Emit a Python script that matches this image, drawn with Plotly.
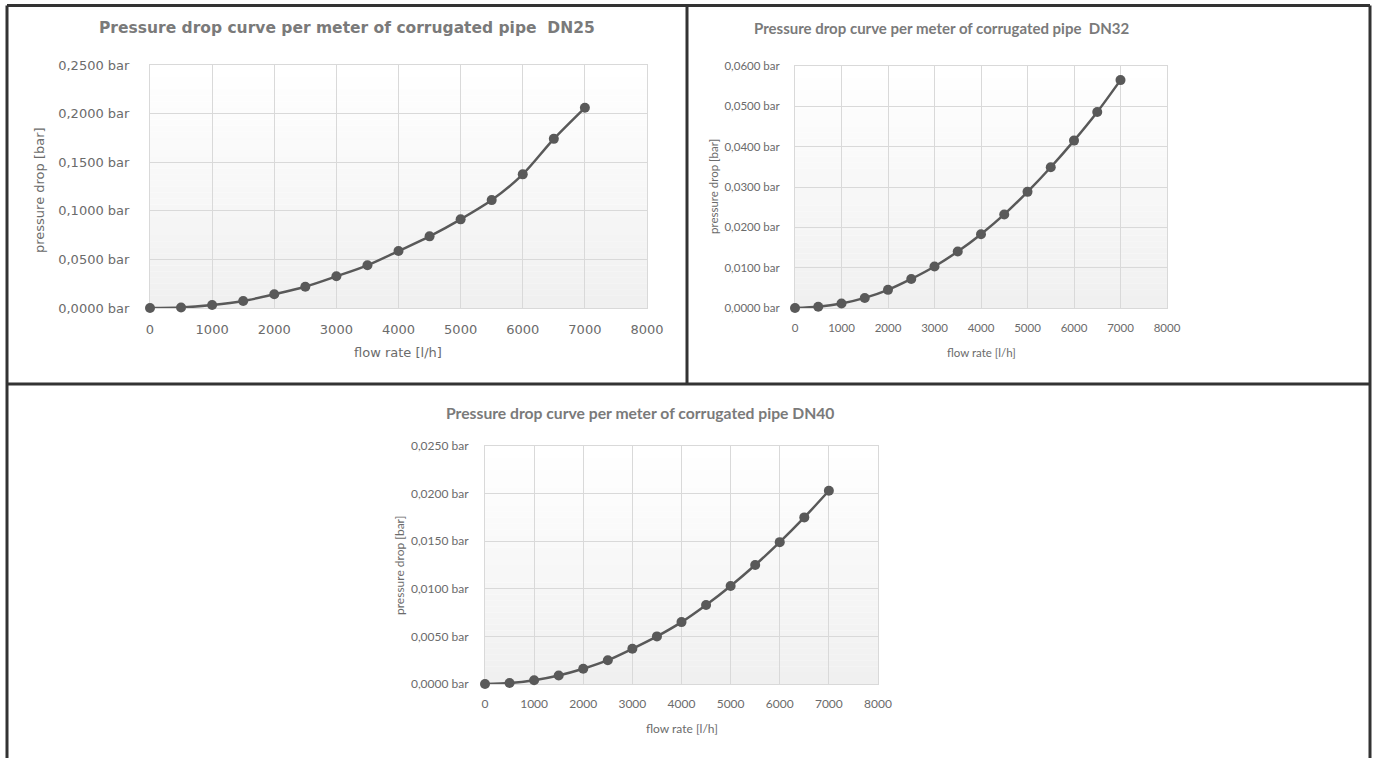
import plotly.graph_objects as go

# flow rate [l/h] — same for all three pipes
flow_rate = [0, 500, 1000, 1500, 2000, 2500, 3000, 3500, 4000, 4500, 5000, 5500, 6000, 6500, 7000]

# pressure drop per meter [bar]
dp_dn25 = [0.0000, 0.0005, 0.0031, 0.0072, 0.0141, 0.0219, 0.0326, 0.0439, 0.0586,
           0.0737, 0.0912, 0.1110, 0.1375, 0.1740, 0.2060]
dp_dn32 = [0.0000, 0.0003, 0.0011, 0.0025, 0.0045, 0.0072, 0.0103, 0.0140, 0.0183,
           0.0232, 0.0288, 0.0349, 0.0415, 0.0486, 0.0565]
dp_dn40 = [0.0000, 0.0001, 0.0004, 0.0009, 0.0016, 0.0025, 0.0037, 0.0050, 0.0065,
           0.0083, 0.0103, 0.0125, 0.0149, 0.0175, 0.0203]

titles = [
    "Pressure drop curve per meter of corrugated pipe  DN25",
    "Pressure drop curve per meter of corrugated pipe  DN32",
    "Pressure drop curve per meter of corrugated pipe DN40",
]
x_title = "flow rate [l/h]"
y_title = "pressure drop [bar]"

W, H = 1378, 758
LINE = "#595959"
GRID = "#d9d9d9"
TITLE_C = "#7a7a7a"
TICK_C = "#6b6b6b"


def px_x(x):
    return x / W


def px_y(y):
    return (H - y) / H


# one dict per panel: plot area in pixels (left, right, top, bottom) and fonts
panels = [
    dict(series=dp_dn25, ymax=0.25, dtick=0.05, box=(150, 647, 65, 308),
         font="DejaVu Sans", tsize=13, title_font="DejaVu Sans", title_size=15.5,
         title_pos=(347, 28), xt_pos=(398, 353), yt_pos=(39, 190), ylen=17),
    dict(series=dp_dn32, ymax=0.06, dtick=0.01, box=(795, 1167, 66, 308),
         font="Lato", tsize=11.5, title_font="Lato", title_size=15,
         title_pos=(941, 28), xt_pos=(981, 353), yt_pos=(713, 187), ylen=12),
    dict(series=dp_dn40, ymax=0.025, dtick=0.005, box=(485, 878, 446, 684),
         font="Lato", tsize=12, title_font="Lato", title_size=15.7,
         title_pos=(640, 413), xt_pos=(682, 728), yt_pos=(399, 566), ylen=13),
]

fig = go.Figure()
shapes = []
annotations = []

for i, p in enumerate(panels, start=1):
    sfx = "" if i == 1 else str(i)
    left, right, top, bottom = p["box"]

    fig.add_trace(go.Scatter(
        x=flow_rate, y=p["series"],
        xaxis="x" + sfx, yaxis="y" + sfx,
        mode="lines+markers",
        line=dict(color=LINE, width=2.5, shape="spline", smoothing=0.8),
        marker=dict(color=LINE, size=10),
        cliponaxis=False, showlegend=False,
    ))

    tickfont = dict(family=p["font"], size=p["tsize"], color=TICK_C)
    fig.update_layout(**{
        "xaxis" + sfx: dict(
            domain=[px_x(left), px_x(right)], anchor="y" + sfx,
            range=[0, 8000], tick0=0, dtick=1000, tickformat="d",
            showgrid=True, gridcolor=GRID, gridwidth=1,
            showline=True, mirror=True, linecolor=GRID, zeroline=False,
            ticks="outside", ticklen=9, tickcolor="rgba(0,0,0,0)",
            tickfont=tickfont, fixedrange=True, layer="below traces",
            automargin=False,
        ),
        "yaxis" + sfx: dict(
            domain=[px_y(bottom), px_y(top)], anchor="x" + sfx,
            range=[0, p["ymax"]], tick0=0, dtick=p["dtick"],
            tickformat=".4f", ticksuffix=" bar",
            showgrid=True, gridcolor=GRID, gridwidth=1,
            showline=True, mirror=True, linecolor=GRID, zeroline=False,
            ticks="outside", ticklen=p["ylen"], tickcolor="rgba(0,0,0,0)",
            tickfont=tickfont, fixedrange=True, layer="below traces",
            automargin=False,
        ),
    })

    # light vertical gradient in the plot area (white top -> grey bottom)
    n = 40
    for k in range(n):
        t = k / (n - 1)
        g = round(240 + (255 - 240) * t)
        shapes.append(dict(
            type="rect", xref="x" + sfx + " domain", yref="y" + sfx + " domain",
            x0=0, x1=1, y0=k / n, y1=(k + 1) / n,
            fillcolor=f"rgb({g},{g},{g})", line=dict(width=0), layer="below",
        ))

    annotations.append(dict(
        text="<b>" + titles[i - 1] + "</b>", xref="paper", yref="paper",
        x=px_x(p["title_pos"][0]), y=px_y(p["title_pos"][1]),
        xanchor="center", yanchor="middle", showarrow=False,
        font=dict(family=p["title_font"], size=p["title_size"], color=TITLE_C),
    ))
    annotations.append(dict(
        text=x_title, xref="paper", yref="paper",
        x=px_x(p["xt_pos"][0]), y=px_y(p["xt_pos"][1]),
        xanchor="center", yanchor="middle", showarrow=False,
        font=dict(family=p["font"], size=p["tsize"], color=TICK_C),
    ))
    annotations.append(dict(
        text=y_title, xref="paper", yref="paper", textangle=-90,
        x=px_x(p["yt_pos"][0]), y=px_y(p["yt_pos"][1]),
        xanchor="center", yanchor="middle", showarrow=False,
        font=dict(family=p["font"], size=p["tsize"], color=TICK_C),
    ))

# frame lines around the three panels
frame = dict(color="#333333", width=3)
xl, xr, yt = px_x(7), px_x(1370), px_y(5.5)
shapes += [
    dict(type="line", xref="paper", yref="paper", x0=xl, x1=xl, y0=0, y1=yt, line=frame),
    dict(type="line", xref="paper", yref="paper", x0=xr, x1=xr, y0=0, y1=yt, line=frame),
    dict(type="line", xref="paper", yref="paper", x0=xl, x1=xr, y0=yt, y1=yt, line=frame),
    dict(type="line", xref="paper", yref="paper", x0=xl, x1=xr, y0=px_y(384), y1=px_y(384), line=frame),
    dict(type="line", xref="paper", yref="paper", x0=px_x(687), x1=px_x(687), y0=px_y(384), y1=yt, line=frame),
]

fig.update_layout(
    width=W, height=H,
    margin=dict(l=0, r=0, t=0, b=0, pad=0, autoexpand=False),
    paper_bgcolor="white", plot_bgcolor="white",
    separators=",.",
    shapes=shapes, annotations=annotations,
    showlegend=False,
)

# page without the default body margin, so the figure fills the window exactly
fig.write_html(
    "out.html",
    config={"displayModeBar": False},
    post_script="document.body.style.margin='0';"
                "document.body.style.overflow='hidden';"
                "document.documentElement.style.overflow='hidden';",
)
